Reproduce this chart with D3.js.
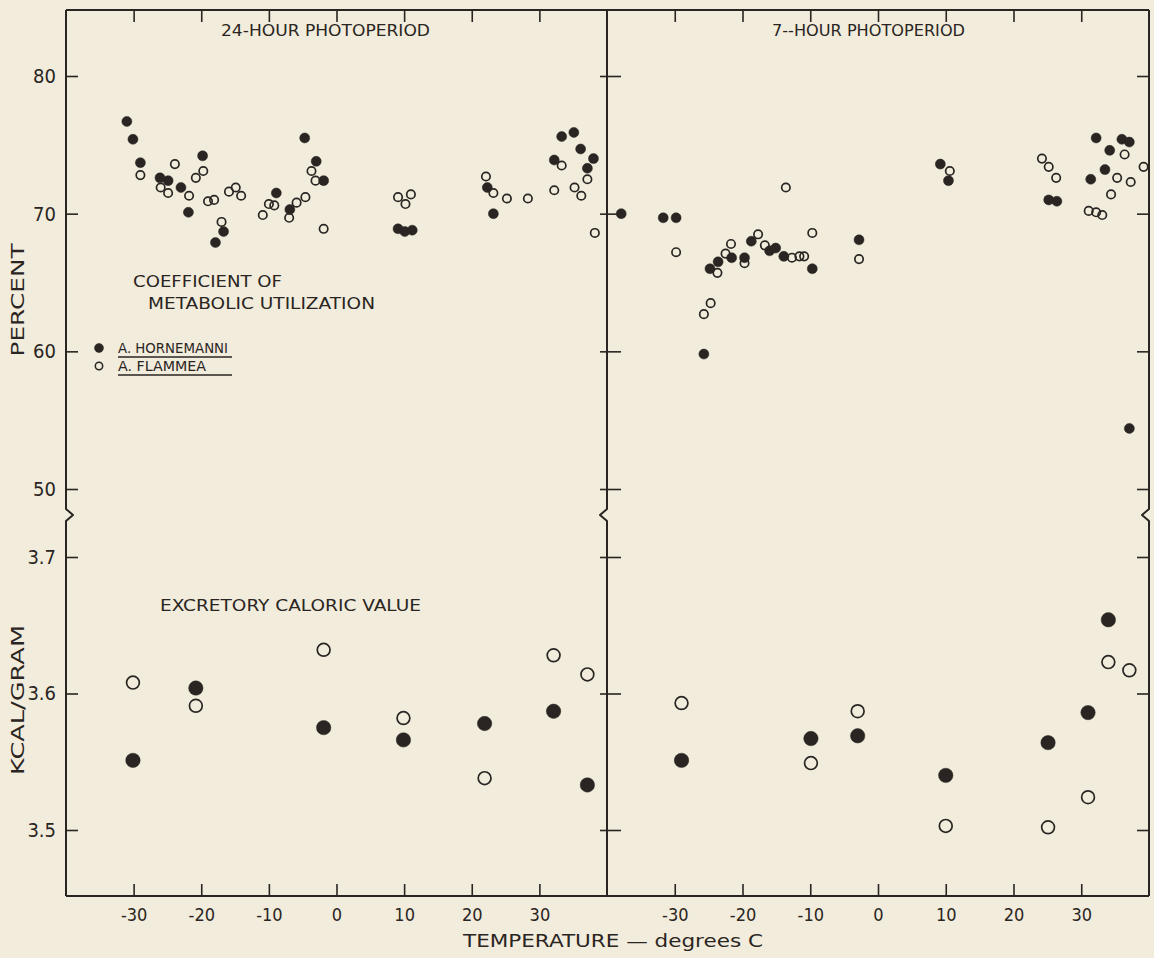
<!DOCTYPE html>
<html>
<head>
<meta charset="utf-8">
<script src="https://cdn.jsdelivr.net/npm/d3@7"></script>
<style>
  html, body { margin: 0; padding: 0; background: #f2ecdc; }
  svg { display: block; }
  text { font-family: "DejaVu Sans", sans-serif; fill: #2a2522; }
  .tick text { font-family: "DejaVu Sans Condensed", "DejaVu Sans", sans-serif; font-stretch: condensed; }
</style>
</head>
<body>
<svg id="chart" width="1154" height="958"></svg>
<script>
// Axis ticks
const tempTicks = [-30, -20, -10, 0, 10, 20, 30];
const percentTicks = [50, 60, 70, 80];
const kcalTicks = [3.5, 3.6, 3.7];

// Coefficient of metabolic utilization (%), [temperature °C, percent]
const pct24Hornemanni = [
  [-31.0, 76.7], [-30.1, 75.4], [-29.0, 73.7], [-26.1, 72.6], [-24.9, 72.4], [-23.0, 71.9],
  [-21.9, 70.1], [-19.8, 74.2], [-17.9, 67.9], [-16.7, 68.7], [-8.9, 71.5], [-6.9, 70.3],
  [-4.7, 75.5], [-3.0, 73.8], [-1.9, 72.4], [9.1, 68.9], [10.1, 68.7], [11.2, 68.8],
  [22.3, 71.9], [23.2, 70.0], [32.2, 73.9], [33.3, 75.6], [35.1, 75.9], [36.1, 74.7],
  [37.1, 73.3], [38.0, 74.0]
];
const pct24Flammea = [
  [-29.0, 72.8], [-26.0, 71.9], [-24.9, 71.5], [-23.9, 73.6], [-21.8, 71.3], [-20.8, 72.6],
  [-19.7, 73.1], [-19.0, 70.9], [-18.1, 71.0], [-17.0, 69.4], [-15.9, 71.6], [-14.9, 71.9],
  [-14.1, 71.3], [-10.9, 69.9], [-10.0, 70.7], [-9.2, 70.6], [-7.0, 69.7], [-5.9, 70.8],
  [-4.6, 71.2], [-3.7, 73.1], [-3.1, 72.4], [-1.9, 68.9], [9.1, 71.2], [10.2, 70.7],
  [11.0, 71.4], [22.1, 72.7], [23.2, 71.5], [25.2, 71.1], [28.3, 71.1], [32.2, 71.7],
  [33.3, 73.5], [35.2, 71.9], [36.2, 71.3], [37.1, 72.5], [38.2, 68.6]
];
const pct7Hornemanni = [
  [-37.9, 70.0], [-31.7, 69.7], [-29.8, 69.7], [-25.7, 59.8], [-24.8, 66.0], [-23.6, 66.5],
  [-21.6, 66.8], [-19.7, 66.8], [-18.7, 68.0], [-16.0, 67.3], [-15.1, 67.5], [-13.9, 66.9],
  [-9.7, 66.0], [-2.8, 68.1], [9.2, 73.6], [10.4, 72.4], [25.2, 71.0], [26.4, 70.9],
  [31.4, 72.5], [32.2, 75.5], [33.5, 73.2], [34.2, 74.6], [36.0, 75.4], [37.1, 75.2],
  [37.1, 54.4]
];
const pct7Flammea = [
  [-29.8, 67.2], [-25.7, 62.7], [-24.7, 63.5], [-23.7, 65.7], [-22.5, 67.1], [-21.7, 67.8],
  [-19.7, 66.4], [-17.7, 68.5], [-16.7, 67.7], [-13.6, 71.9], [-12.7, 66.8], [-11.6, 66.9],
  [-10.9, 66.9], [-9.7, 68.6], [-2.8, 66.7], [10.6, 73.1], [24.2, 74.0], [25.2, 73.4],
  [26.3, 72.6], [31.1, 70.2], [32.2, 70.1], [33.1, 69.9], [34.4, 71.4], [35.3, 72.6],
  [36.4, 74.3], [37.3, 72.3], [39.2, 73.4]
];

// Excretory caloric value (kcal/g), [temperature °C, kcal per gram]
const kcal24Hornemanni = [[-30.1, 3.551], [-20.8, 3.604], [-1.9, 3.575], [9.9, 3.566], [21.9, 3.578], [32.1, 3.587], [37.1, 3.533]];
const kcal24Flammea = [[-30.1, 3.608], [-20.8, 3.591], [-1.9, 3.632], [9.9, 3.582], [21.9, 3.538], [32.1, 3.628], [37.1, 3.614]];
const kcal7Hornemanni = [[-29.0, 3.551], [-9.9, 3.567], [-3.0, 3.569], [10.0, 3.540], [25.1, 3.564], [31.0, 3.586], [34.0, 3.654]];
const kcal7Flammea = [[-29.0, 3.593], [-9.9, 3.549], [-3.0, 3.587], [10.0, 3.503], [25.1, 3.502], [31.0, 3.524], [34.0, 3.623], [37.1, 3.617]];

const ink = "#2a2522";
const paper = "#f2ecdc";
const frame = { left: 66, mid: 607, right: 1149, top: 10, bottom: 896, brk: 515 };

const svg = d3.select("#chart");
svg.append("rect").attr("width", 1154).attr("height", 958).attr("fill", paper);

// Scales: two temperature panels, a split vertical axis
const xLeft = d3.scaleLinear([-40, 40], [frame.left, frame.mid]);
const xRight = d3.scaleLinear([-40, 40], [frame.mid, frame.right]);
const yPct = d3.scaleLinear([50, 80], [489, 76]);
const yKcal = d3.scaleLinear([3.5, 3.7], [830, 557]);

// Frame with broken-axis zigzags
const vline = (x, dir) => `M${x},${frame.top}V${frame.brk - 6}L${x + dir * 7},${frame.brk}L${x},${frame.brk + 6}V${frame.bottom}`;
const framePaths = [
  `M${frame.left},${frame.top}H${frame.right}`,
  `M${frame.left},${frame.bottom}H${frame.right}`,
  vline(frame.left, 1), vline(frame.mid, -1), vline(frame.right, -1)
];
svg.append("g").selectAll("path").data(framePaths).join("path")
  .attr("d", d => d).attr("fill", "none").attr("stroke", ink)
  .attr("stroke-width", 2).attr("stroke-linejoin", "round");

function styleAxis(g, size) {
  g.select(".domain").remove();
  g.selectAll(".tick line").attr("stroke", ink).attr("stroke-width", 1.6);
  g.selectAll(".tick text").attr("fill", ink).attr("font-size", size);
}

// Left axis with labels
[[yPct, percentTicks, d3.format("d")], [yKcal, kcalTicks, d3.format(".1f")]].forEach(([y, ticks, fmt]) => {
  svg.append("g").attr("transform", `translate(${frame.left},0)`)
    .call(d3.axisLeft(y).tickValues(ticks).tickFormat(fmt).tickSize(-12).tickPadding(10))
    .call(g => styleAxis(g, 20));
  // ticks crossing the middle divider
  svg.append("g").attr("transform", `translate(${frame.mid - 7},0)`)
    .call(d3.axisRight(y).tickValues(ticks).tickFormat("").tickSize(21))
    .call(g => styleAxis(g, 0));
  // ticks on the right border
  svg.append("g").attr("transform", `translate(${frame.right},0)`)
    .call(d3.axisLeft(y).tickValues(ticks).tickFormat("").tickSize(12))
    .call(g => styleAxis(g, 0));
});

// Temperature axes, bottom with labels and top ticks
[xLeft, xRight].forEach(x => {
  svg.append("g").attr("transform", `translate(0,${frame.bottom})`)
    .call(d3.axisBottom(x).tickValues(tempTicks).tickFormat(d => d < 0 ? "-" + Math.abs(d) : String(d)).tickSize(-12).tickPadding(12))
    .call(g => styleAxis(g, 18));
  svg.append("g").attr("transform", `translate(0,${frame.top})`)
    .call(d3.axisTop(x).tickValues(tempTicks).tickFormat("").tickSize(-12))
    .call(g => styleAxis(g, 0));
});

// Points
function plot(data, x, y, filled, r) {
  svg.append("g").selectAll("circle").data(data).join("circle")
    .attr("cx", d => x(d[0])).attr("cy", d => y(d[1]))
    .attr("r", filled ? r : r - 0.8)
    .attr("fill", filled ? ink : "none")
    .attr("stroke", ink)
    .attr("stroke-width", filled ? 0.5 : 1.7);
}
plot(pct24Hornemanni, xLeft, yPct, true, 5);
plot(pct24Flammea, xLeft, yPct, false, 5);
plot(pct7Hornemanni, xRight, yPct, true, 5);
plot(pct7Flammea, xRight, yPct, false, 5);
plot(kcal24Hornemanni, xLeft, yKcal, true, 7.2);
plot(kcal24Flammea, xLeft, yKcal, false, 7.2);
plot(kcal7Hornemanni, xRight, yKcal, true, 7.2);
plot(kcal7Flammea, xRight, yKcal, false, 7.2);

// Labels
function label(txt, x, y, size, len, opts = {}) {
  const t = svg.append("text").text(txt).attr("x", x).attr("y", y)
    .attr("font-size", size).attr("textLength", len).attr("lengthAdjust", "spacingAndGlyphs");
  if (opts.rotate) t.attr("transform", `rotate(-90,${x},${y})`).attr("text-anchor", "middle");
  if (opts.condensed) t.attr("font-family", "'DejaVu Sans Condensed', 'DejaVu Sans', sans-serif");
  return t;
}
label("24-HOUR PHOTOPERIOD", 221, 36, 15, 209);
label("7--HOUR PHOTOPERIOD", 772, 36, 15, 193);
label("COEFFICIENT OF", 133, 287, 15, 149);
label("METABOLIC UTILIZATION", 148, 309, 15, 227);
label("EXCRETORY CALORIC VALUE", 160, 611, 15, 261);
label("PERCENT", 24, 300, 18, 113, { rotate: true });
label("KCAL/GRAM", 24, 700, 18, 150, { rotate: true });
label("TEMPERATURE \u2014 degrees C", 463, 947, 18, 300, { condensed: true });

// Species key
const keyRows = [
  { name: "A. HORNEMANNI", filled: true, y: 348, len: 110 },
  { name: "A. FLAMMEA", filled: false, y: 366, len: 88 }
];
keyRows.forEach(k => {
  svg.append("circle").attr("cx", 99).attr("cy", k.y).attr("r", k.filled ? 4.5 : 3.7)
    .attr("fill", k.filled ? ink : "none").attr("stroke", ink).attr("stroke-width", k.filled ? 0.5 : 1.5);
  label(k.name, 118, k.y + 5, 14, k.len);
  svg.append("line").attr("x1", 118).attr("x2", 232).attr("y1", k.y + 9).attr("y2", k.y + 9)
    .attr("stroke", ink).attr("stroke-width", 1.5);
});
</script>
</body>
</html>
